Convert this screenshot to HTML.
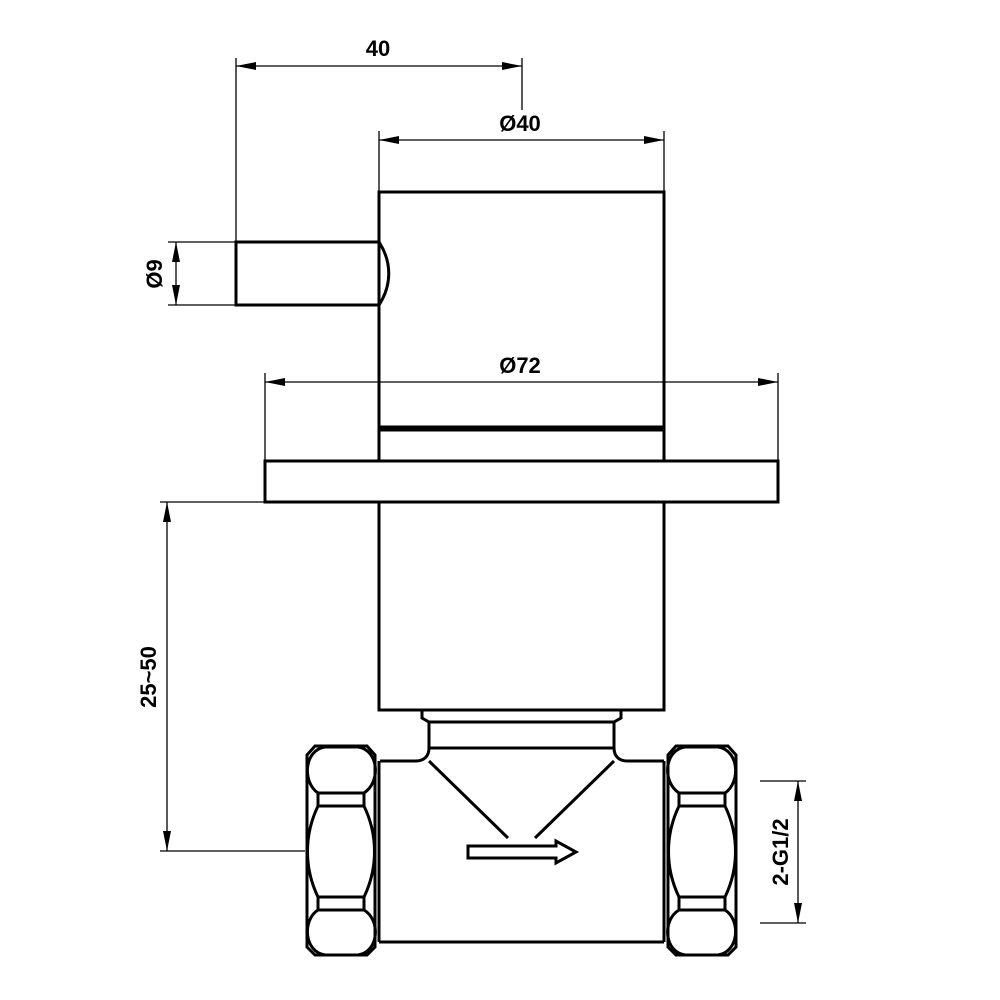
<!DOCTYPE html>
<html><head><meta charset="utf-8"><style>html,body{margin:0;padding:0;background:#fff}svg{display:block}</style></head>
<body>
<svg width="1000" height="1000" viewBox="0 0 1000 1000" xmlns="http://www.w3.org/2000/svg">
<defs>
<marker id="a" viewBox="0 0 20 8" refX="20" refY="4" markerWidth="20" markerHeight="8" markerUnits="userSpaceOnUse" orient="auto-start-reverse"><path d="M0,0 L20,4 L0,8 Z" fill="#000"/></marker>
<g id="nut" fill="none" stroke="#000" stroke-width="3">
<path d="M315,746 L367,746 L375,755 L375,947 L367,955 L315,955 L307,947 L307,755 Z"/>
<path d="M318,793 C302,782 304,750 325,747 L358,747 C379,750 381,782 364,793 Z"/>
<rect x="318" y="793" width="46" height="13"/>
<path d="M318,806 C304,835 304,868 318,897 M364,806 C378,835 378,868 364,897"/>
<rect x="318" y="897" width="46" height="13"/>
<path d="M318,910 C302,920 304,952 325,955 L358,955 C379,952 381,920 364,910 Z"/>
</g>
</defs>
<g stroke="#000" stroke-width="1.3" fill="none">
<line x1="236" y1="58" x2="236" y2="242"/>
<line x1="522" y1="58" x2="522" y2="110"/>
<line x1="236" y1="66" x2="522" y2="66" marker-start="url(#a)" marker-end="url(#a)"/>
<line x1="379" y1="131" x2="379" y2="192"/>
<line x1="664" y1="131" x2="664" y2="192"/>
<line x1="379" y1="140" x2="664" y2="140" marker-start="url(#a)" marker-end="url(#a)"/>
<line x1="265" y1="373" x2="265" y2="461"/>
<line x1="778" y1="373" x2="778" y2="461"/>
<line x1="265" y1="382" x2="778" y2="382" marker-start="url(#a)" marker-end="url(#a)"/>
<line x1="168" y1="242" x2="236" y2="242"/>
<line x1="168" y1="305" x2="236" y2="305"/>
<line x1="176" y1="242" x2="176" y2="305" marker-start="url(#a)" marker-end="url(#a)"/>
<line x1="160" y1="502" x2="265" y2="502"/>
<line x1="160" y1="851" x2="305" y2="851"/>
<line x1="167" y1="502" x2="167" y2="851" marker-start="url(#a)" marker-end="url(#a)"/>
<line x1="760" y1="781" x2="806" y2="781"/>
<line x1="760" y1="923" x2="806" y2="923"/>
<line x1="798" y1="781" x2="798" y2="923" marker-start="url(#a)" marker-end="url(#a)"/>
</g>
<g fill="none" stroke="#000" stroke-width="3">
<rect x="379" y="192" width="285" height="236"/>
<line x1="379" y1="428" x2="664" y2="428" stroke-width="5"/>
<rect x="379" y="430" width="285" height="31"/>
<rect x="265" y="461" width="513" height="41"/>
<rect x="379" y="502" width="285" height="208"/>
<path d="M379,242 L236,242 L236,305 L379,305 C392,285 392,262 379,242"/>
<path d="M422,710 L422,718 L429,722 L614,722 L621,718 L621,710"/>
<path d="M429,722 L429,748 C429,757 423,761 416,761 L380,761"/>
<path d="M614,722 L614,748 C614,757 620,761 627,761 L664,761"/>
<line x1="429" y1="748" x2="614" y2="748"/>
<line x1="379" y1="761" x2="379" y2="942"/>
<line x1="664" y1="761" x2="664" y2="942"/>
<line x1="379" y1="942" x2="664" y2="942"/>
<line x1="429" y1="761" x2="508" y2="838"/>
<line x1="614" y1="761" x2="535" y2="838"/>
<path d="M468,846 L556,846 L556,841 L576,852 L556,863 L556,858 L468,858 Z"/>
</g>
<use href="#nut"/>
<use href="#nut" transform="translate(1043,0) scale(-1,1)"/>
<g font-family="Liberation Sans, sans-serif" font-weight="bold" font-size="22" fill="#000" text-anchor="middle">
<text x="378" y="56">40</text>
<text x="520" y="131">Ø40</text>
<text x="520" y="373">Ø72</text>
<text transform="translate(162,274) rotate(-90)">Ø9</text>
<text transform="translate(156,677) rotate(-90)">25~50</text>
<text transform="translate(788,852) rotate(-90)">2-G1/2</text>
</g>
</svg>
</body></html>
